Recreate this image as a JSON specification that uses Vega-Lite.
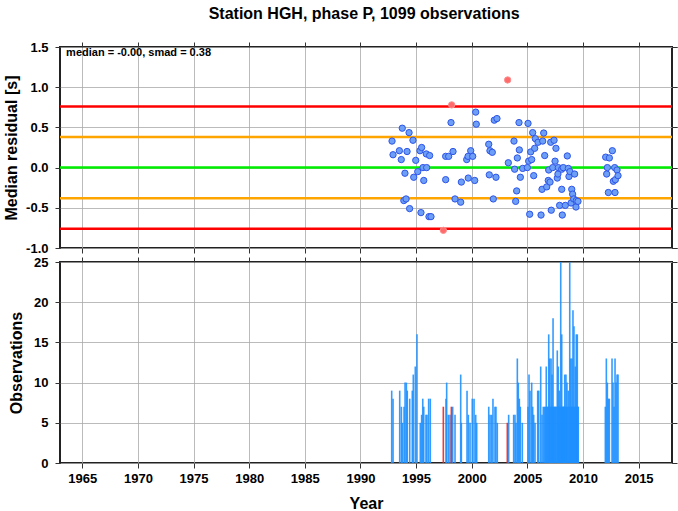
{
  "$schema": "https://vega.github.io/schema/vega-lite/v6.json",
  "autosize": {"type": "pad"},
  "padding": {"left": 2, "top": 6, "right": 1, "bottom": 0},
  "background": "white",
  "title": {"text": "Station HGH, phase P, 1099 observations", "font": "Liberation Sans", "fontSize": 16, "fontWeight": "bold", "color": "black", "anchor": "middle", "offset": 18},
  "config": {
    "view": {"stroke": "#222", "strokeWidth": 2},
    "axis": {"labelFont": "Liberation Sans", "labelFontSize": 13, "labelFontWeight": "bold", "labelColor": "black", "titleFont": "Liberation Sans", "titleFontSize": 16, "titleFontWeight": "bold", "titleColor": "black", "domain": false, "tickColor": "#333", "tickSize": 5, "tickWidth": 1, "gridColor": "#aaa", "gridWidth": 0.8}
  },
  "resolve": {"scale": {"color": "independent", "fill": "independent", "stroke": "independent", "strokeWidth": "independent"}},
  "datasets": {
    "points": [
      {"year": 1992.84, "value": 0.33, "flag": "ok"}, {"year": 1992.93, "value": 0.16, "flag": "ok"}, {"year": 1993.5, "value": 0.21, "flag": "ok"}, {"year": 1993.67, "value": 0.10, "flag": "ok"}, {"year": 1993.76, "value": 0.49, "flag": "ok"}, {"year": 1993.9, "value": -0.41, "flag": "ok"}, {"year": 1994.0, "value": -0.07, "flag": "ok"}, {"year": 1994.1, "value": -0.39, "flag": "ok"}, {"year": 1994.19, "value": 0.20, "flag": "ok"}, {"year": 1994.37, "value": 0.435, "flag": "ok"}, {"year": 1994.42, "value": -0.51, "flag": "ok"}, {"year": 1994.72, "value": 0.34, "flag": "ok"}, {"year": 1994.79, "value": -0.12, "flag": "ok"}, {"year": 1994.97, "value": 0.09, "flag": "ok"}, {"year": 1995.15, "value": -0.05, "flag": "ok"}, {"year": 1995.35, "value": 0.21, "flag": "ok"}, {"year": 1995.44, "value": -0.56, "flag": "ok"}, {"year": 1995.5, "value": 0.25, "flag": "ok"}, {"year": 1995.62, "value": 0.0, "flag": "ok"}, {"year": 1995.69, "value": -0.16, "flag": "ok"}, {"year": 1995.92, "value": 0.17, "flag": "ok"}, {"year": 1995.95, "value": 0.0, "flag": "ok"}, {"year": 1996.16, "value": -0.61, "flag": "ok"}, {"year": 1996.22, "value": 0.15, "flag": "ok"}, {"year": 1996.34, "value": -0.61, "flag": "ok"},
      {"year": 1997.66, "value": 0.14, "flag": "ok"}, {"year": 1997.66, "value": -0.15, "flag": "ok"}, {"year": 1997.93, "value": 0.14, "flag": "ok"}, {"year": 1998.14, "value": 0.56, "flag": "ok"}, {"year": 1998.32, "value": 0.20, "flag": "ok"}, {"year": 1998.5, "value": -0.39, "flag": "ok"}, {"year": 1999.01, "value": -0.43, "flag": "ok"}, {"year": 1999.07, "value": -0.18, "flag": "ok"}, {"year": 1999.55, "value": 0.10, "flag": "ok"}, {"year": 1999.67, "value": 0.14, "flag": "ok"}, {"year": 1999.69, "value": -0.13, "flag": "ok"}, {"year": 1999.91, "value": 0.21, "flag": "ok"}, {"year": 2000.09, "value": 0.14, "flag": "ok"}, {"year": 2000.27, "value": -0.16, "flag": "ok"}, {"year": 2000.36, "value": 0.69, "flag": "ok"}, {"year": 2000.41, "value": 0.54, "flag": "ok"},
      {"year": 2001.53, "value": 0.29, "flag": "ok"}, {"year": 2001.58, "value": -0.09, "flag": "ok"}, {"year": 2001.64, "value": 0.21, "flag": "ok"}, {"year": 2001.85, "value": 0.19, "flag": "ok"}, {"year": 2001.94, "value": -0.39, "flag": "ok"}, {"year": 2002.03, "value": 0.59, "flag": "ok"}, {"year": 2002.18, "value": -0.12, "flag": "ok"}, {"year": 2002.27, "value": 0.61, "flag": "ok"},
      {"year": 2003.29, "value": 0.06, "flag": "ok"}, {"year": 2003.8, "value": 0.33, "flag": "ok"}, {"year": 2003.86, "value": -0.02, "flag": "ok"}, {"year": 2003.95, "value": -0.42, "flag": "ok"}, {"year": 2004.04, "value": -0.29, "flag": "ok"}, {"year": 2004.1, "value": 0.12, "flag": "ok"}, {"year": 2004.25, "value": 0.56, "flag": "ok"}, {"year": 2004.28, "value": 0.22, "flag": "ok"}, {"year": 2004.37, "value": -0.12, "flag": "ok"}, {"year": 2004.58, "value": -0.01, "flag": "ok"},
      {"year": 2005.0, "value": 0.0, "flag": "ok"}, {"year": 2005.06, "value": 0.55, "flag": "ok"}, {"year": 2005.12, "value": 0.08, "flag": "ok"}, {"year": 2005.21, "value": -0.58, "flag": "ok"}, {"year": 2005.3, "value": 0.195, "flag": "ok"}, {"year": 2005.39, "value": 0.10, "flag": "ok"}, {"year": 2005.48, "value": 0.435, "flag": "ok"}, {"year": 2005.57, "value": -0.10, "flag": "ok"}, {"year": 2005.66, "value": 0.24, "flag": "ok"}, {"year": 2005.72, "value": 0.36, "flag": "ok"}, {"year": 2005.96, "value": 0.315, "flag": "ok"},
      {"year": 2006.23, "value": -0.59, "flag": "ok"}, {"year": 2006.32, "value": -0.27, "flag": "ok"}, {"year": 2006.38, "value": 0.33, "flag": "ok"}, {"year": 2006.47, "value": 0.43, "flag": "ok"}, {"year": 2006.56, "value": 0.15, "flag": "ok"}, {"year": 2006.74, "value": -0.24, "flag": "ok"}, {"year": 2006.88, "value": -0.16, "flag": "ok"}, {"year": 2006.92, "value": -0.03, "flag": "ok"},
      {"year": 2007.04, "value": -0.18, "flag": "ok"}, {"year": 2007.1, "value": 0.315, "flag": "ok"}, {"year": 2007.15, "value": -0.53, "flag": "ok"}, {"year": 2007.28, "value": 0.0, "flag": "ok"}, {"year": 2007.4, "value": 0.34, "flag": "ok"}, {"year": 2007.49, "value": 0.08, "flag": "ok"}, {"year": 2007.57, "value": 0.24, "flag": "ok"}, {"year": 2007.69, "value": -0.13, "flag": "ok"}, {"year": 2007.75, "value": -0.08, "flag": "ok"}, {"year": 2007.78, "value": 0.0, "flag": "ok"}, {"year": 2007.9, "value": -0.47, "flag": "ok"},
      {"year": 2008.09, "value": -0.02, "flag": "ok"}, {"year": 2008.09, "value": -0.27, "flag": "ok"}, {"year": 2008.14, "value": -0.59, "flag": "ok"}, {"year": 2008.23, "value": 0.0, "flag": "ok"}, {"year": 2008.41, "value": -0.47, "flag": "ok"}, {"year": 2008.59, "value": 0.145, "flag": "ok"}, {"year": 2008.68, "value": -0.01, "flag": "ok"}, {"year": 2008.74, "value": -0.11, "flag": "ok"}, {"year": 2008.83, "value": -0.05, "flag": "ok"}, {"year": 2008.93, "value": -0.44, "flag": "ok"}, {"year": 2008.99, "value": -0.27, "flag": "ok"},
      {"year": 2009.07, "value": -0.33, "flag": "ok"}, {"year": 2009.17, "value": -0.39, "flag": "ok"}, {"year": 2009.25, "value": -0.08, "flag": "ok"}, {"year": 2009.37, "value": -0.49, "flag": "ok"}, {"year": 2009.4, "value": -0.41, "flag": "ok"}, {"year": 2009.55, "value": -0.42, "flag": "ok"},
      {"year": 2012.04, "value": 0.13, "flag": "ok"}, {"year": 2012.13, "value": -0.08, "flag": "ok"}, {"year": 2012.19, "value": 0.0, "flag": "ok"}, {"year": 2012.28, "value": -0.31, "flag": "ok"}, {"year": 2012.37, "value": 0.12, "flag": "ok"}, {"year": 2012.64, "value": 0.21, "flag": "ok"}, {"year": 2012.73, "value": -0.17, "flag": "ok"}, {"year": 2012.85, "value": 0.0, "flag": "ok"}, {"year": 2012.88, "value": -0.31, "flag": "ok"}, {"year": 2012.91, "value": -0.15, "flag": "ok"}, {"year": 2013.06, "value": -0.03, "flag": "ok"}, {"year": 2013.15, "value": -0.10, "flag": "ok"},
      {"year": 1997.45, "value": -0.78, "flag": "outlier"}, {"year": 1998.2, "value": 0.78, "flag": "outlier"}, {"year": 2003.23, "value": 1.09, "flag": "outlier"}
    ],
    "bars": [
      {"year": 1992.81, "count": 9, "flag": "ok"}, {"year": 1992.93, "count": 8, "flag": "ok"}, {"year": 1993.53, "count": 9, "flag": "ok"}, {"year": 1993.68, "count": 7, "flag": "ok"}, {"year": 1993.77, "count": 5, "flag": "ok"}, {"year": 1993.92, "count": 7, "flag": "ok"}, {"year": 1994.01, "count": 10, "flag": "ok"}, {"year": 1994.13, "count": 10, "flag": "ok"}, {"year": 1994.21, "count": 9, "flag": "ok"}, {"year": 1994.43, "count": 8, "flag": "ok"}, {"year": 1994.66, "count": 9, "flag": "ok"}, {"year": 1994.75, "count": 11, "flag": "ok"}, {"year": 1994.93, "count": 12, "flag": "ok"}, {"year": 1995.08, "count": 16, "flag": "ok"}, {"year": 1995.38, "count": 5, "flag": "ok"}, {"year": 1995.5, "count": 6, "flag": "ok"}, {"year": 1995.6, "count": 8, "flag": "ok"}, {"year": 1995.69, "count": 7, "flag": "ok"}, {"year": 1995.89, "count": 6, "flag": "ok"}, {"year": 1995.98, "count": 6, "flag": "ok"}, {"year": 1996.13, "count": 8, "flag": "ok"}, {"year": 1996.28, "count": 8, "flag": "ok"},
      {"year": 1997.69, "count": 8, "flag": "ok"}, {"year": 1997.75, "count": 10, "flag": "ok"}, {"year": 1997.9, "count": 6, "flag": "ok"}, {"year": 1998.05, "count": 6, "flag": "ok"}, {"year": 1998.29, "count": 7, "flag": "ok"}, {"year": 1998.5, "count": 6, "flag": "ok"}, {"year": 1999.01, "count": 11, "flag": "ok"}, {"year": 1999.07, "count": 5, "flag": "ok"}, {"year": 1999.58, "count": 9, "flag": "ok"}, {"year": 1999.7, "count": 6, "flag": "ok"}, {"year": 1999.85, "count": 5, "flag": "ok"}, {"year": 2000.05, "count": 8, "flag": "ok"}, {"year": 2000.21, "count": 8, "flag": "ok"}, {"year": 2000.36, "count": 6, "flag": "ok"}, {"year": 2000.45, "count": 5, "flag": "ok"},
      {"year": 2001.53, "count": 7, "flag": "ok"}, {"year": 2001.65, "count": 6, "flag": "ok"}, {"year": 2001.8, "count": 6, "flag": "ok"}, {"year": 2001.91, "count": 8, "flag": "ok"}, {"year": 2002.09, "count": 7, "flag": "ok"}, {"year": 2002.18, "count": 7, "flag": "ok"}, {"year": 2002.3, "count": 5, "flag": "ok"},
      {"year": 2003.32, "count": 6, "flag": "ok"}, {"year": 2003.77, "count": 6, "flag": "ok"}, {"year": 2003.89, "count": 6, "flag": "ok"}, {"year": 2003.98, "count": 5, "flag": "ok"}, {"year": 2004.1, "count": 13, "flag": "ok"}, {"year": 2004.19, "count": 10, "flag": "ok"}, {"year": 2004.28, "count": 8, "flag": "ok"}, {"year": 2004.37, "count": 7, "flag": "ok"}, {"year": 2004.55, "count": 5, "flag": "ok"},
      {"year": 2005.06, "count": 7, "flag": "ok"}, {"year": 2005.15, "count": 11, "flag": "ok"}, {"year": 2005.24, "count": 9, "flag": "ok"}, {"year": 2005.39, "count": 10, "flag": "ok"}, {"year": 2005.48, "count": 7, "flag": "ok"}, {"year": 2005.57, "count": 6, "flag": "ok"}, {"year": 2005.69, "count": 5, "flag": "ok"}, {"year": 2005.93, "count": 9, "flag": "ok"},
      {"year": 2006.02, "count": 9, "flag": "ok"}, {"year": 2006.2, "count": 12, "flag": "ok"}, {"year": 2006.32, "count": 6, "flag": "ok"}, {"year": 2006.43, "count": 7, "flag": "ok"}, {"year": 2006.56, "count": 7, "flag": "ok"}, {"year": 2006.62, "count": 7, "flag": "ok"}, {"year": 2006.7, "count": 12, "flag": "ok"}, {"year": 2006.77, "count": 7, "flag": "ok"}, {"year": 2006.83, "count": 7, "flag": "ok"}, {"year": 2006.92, "count": 16, "flag": "ok"}, {"year": 2006.97, "count": 7, "flag": "ok"},
      {"year": 2007.01, "count": 13, "flag": "ok"}, {"year": 2007.07, "count": 7, "flag": "ok"}, {"year": 2007.13, "count": 13, "flag": "ok"}, {"year": 2007.18, "count": 7, "flag": "ok"}, {"year": 2007.22, "count": 11, "flag": "ok"}, {"year": 2007.26, "count": 7, "flag": "ok"}, {"year": 2007.31, "count": 18, "flag": "ok"}, {"year": 2007.37, "count": 7, "flag": "ok"}, {"year": 2007.43, "count": 7, "flag": "ok"}, {"year": 2007.49, "count": 7, "flag": "ok"}, {"year": 2007.55, "count": 7, "flag": "ok"}, {"year": 2007.62, "count": 7, "flag": "ok"}, {"year": 2007.69, "count": 14, "flag": "ok"}, {"year": 2007.73, "count": 7, "flag": "ok"}, {"year": 2007.78, "count": 12, "flag": "ok"}, {"year": 2007.83, "count": 7, "flag": "ok"}, {"year": 2007.87, "count": 9, "flag": "ok"}, {"year": 2007.93, "count": 7, "flag": "ok"},
      {"year": 2008.0, "count": 25, "flag": "ok"}, {"year": 2008.04, "count": 7, "flag": "ok"}, {"year": 2008.09, "count": 16, "flag": "ok"}, {"year": 2008.13, "count": 7, "flag": "ok"}, {"year": 2008.18, "count": 7, "flag": "ok"}, {"year": 2008.23, "count": 7, "flag": "ok"}, {"year": 2008.27, "count": 7, "flag": "ok"}, {"year": 2008.32, "count": 7, "flag": "ok"}, {"year": 2008.36, "count": 11, "flag": "ok"}, {"year": 2008.41, "count": 7, "flag": "ok"}, {"year": 2008.47, "count": 11, "flag": "ok"}, {"year": 2008.52, "count": 7, "flag": "ok"}, {"year": 2008.56, "count": 10, "flag": "ok"}, {"year": 2008.62, "count": 7, "flag": "ok"}, {"year": 2008.68, "count": 9, "flag": "ok"}, {"year": 2008.74, "count": 7, "flag": "ok"}, {"year": 2008.81, "count": 25, "flag": "ok"}, {"year": 2008.85, "count": 7, "flag": "ok"}, {"year": 2008.9, "count": 13, "flag": "ok"}, {"year": 2008.95, "count": 7, "flag": "ok"},
      {"year": 2009.01, "count": 13, "flag": "ok"}, {"year": 2009.05, "count": 7, "flag": "ok"}, {"year": 2009.1, "count": 19, "flag": "ok"}, {"year": 2009.15, "count": 7, "flag": "ok"}, {"year": 2009.19, "count": 17, "flag": "ok"}, {"year": 2009.25, "count": 7, "flag": "ok"}, {"year": 2009.31, "count": 12, "flag": "ok"}, {"year": 2009.35, "count": 7, "flag": "ok"}, {"year": 2009.4, "count": 16, "flag": "ok"}, {"year": 2009.45, "count": 7, "flag": "ok"}, {"year": 2009.49, "count": 16, "flag": "ok"}, {"year": 2009.53, "count": 7, "flag": "ok"}, {"year": 2009.58, "count": 7, "flag": "ok"},
      {"year": 2012.01, "count": 7, "flag": "ok"}, {"year": 2012.1, "count": 13, "flag": "ok"}, {"year": 2012.19, "count": 10, "flag": "ok"}, {"year": 2012.28, "count": 8, "flag": "ok"}, {"year": 2012.37, "count": 8, "flag": "ok"}, {"year": 2012.61, "count": 13, "flag": "ok"}, {"year": 2012.7, "count": 10, "flag": "ok"}, {"year": 2012.79, "count": 7, "flag": "ok"}, {"year": 2012.88, "count": 13, "flag": "ok"}, {"year": 2012.97, "count": 10, "flag": "ok"}, {"year": 2013.06, "count": 11, "flag": "ok"}, {"year": 2013.15, "count": 11, "flag": "ok"},
      {"year": 1997.45, "count": 7, "flag": "outlier"}, {"year": 1998.17, "count": 7, "flag": "outlier"}, {"year": 2003.2, "count": 5, "flag": "outlier"}
    ],
    "levels": [
      {"level": 0.76, "kind": "2 smad"}, {"level": -0.76, "kind": "2 smad"},
      {"level": 0.38, "kind": "1 smad"}, {"level": -0.38, "kind": "1 smad"},
      {"level": 0, "kind": "median"}
    ],
    "note": [{"year": 1963.55, "value": 1.42, "label": "median = -0.00, smad = 0.38"}]
  },
  "spacing": -1,
  "vconcat": [
    {
      "width": 612,
      "height": 201,
      "layer": [
        {
          "data": {"name": "levels"},
          "mark": {"type": "rule"},
          "encoding": {
            "y": {"field": "level", "type": "quantitative", "scale": {"domain": [-1, 1.5], "nice": false, "zero": false},
              "axis": {"values": [-1, -0.5, 0, 0.5, 1, 1.5], "labelExpr": "replace(format(datum.value, '.1f'), '\u2212', '-')", "title": "Median residual [s]", "titlePadding": 6, "grid": true, "labelPadding": 7}},
            "color": {"field": "kind", "type": "nominal", "scale": {"domain": ["2 smad", "1 smad", "median"], "range": ["#ff0000", "#ffa500", "#00ee00"]}, "legend": null},
            "strokeWidth": {"field": "kind", "type": "nominal", "scale": {"domain": ["2 smad", "1 smad", "median"], "range": [2.5, 2.5, 3.5]}, "legend": null}
          }
        },
        {
          "data": {"name": "points"},
          "mark": {"type": "point", "shape": "circle", "filled": false, "size": 40, "strokeWidth": 1, "opacity": 1},
          "encoding": {
            "x": {"field": "year", "type": "quantitative", "scale": {"domain": [1963, 2018], "nice": false, "zero": false},
              "axis": {"values": [1965, 1970, 1975, 1980, 1985, 1990, 1995, 2000, 2005, 2010, 2015], "labels": false, "title": null, "grid": true}},
            "y": {"field": "value", "type": "quantitative"},
            "fill": {"field": "flag", "type": "nominal", "scale": {"domain": ["ok", "outlier"], "range": ["#6c9ff5", "#ff6b6b"]}, "legend": null},
            "stroke": {"field": "flag", "type": "nominal", "scale": {"domain": ["ok", "outlier"], "range": ["#2f55e8", "#ff8c8c"]}, "legend": null}
          }
        },
        {
          "data": {"name": "note"},
          "mark": {"type": "text", "align": "left", "baseline": "middle", "font": "Liberation Sans", "fontSize": 11, "fontWeight": "bold", "color": "black"},
          "encoding": {
            "x": {"field": "year", "type": "quantitative", "axis": {"orient": "top", "values": [1965, 1970, 1975, 1980, 1985, 1990, 1995, 2000, 2005, 2010, 2015], "labels": false, "labelExpr": "''", "title": null, "grid": false}},
            "y": {"field": "value", "type": "quantitative", "axis": {"orient": "right", "values": [-1, -0.5, 0, 0.5, 1, 1.5], "labels": false, "labelExpr": "''", "title": null, "grid": false}},
            "text": {"field": "label", "type": "nominal"}
          }
        }
      ],
      "resolve": {"axis": {"x": "independent", "y": "independent"}}
    },
    {
      "width": 612,
      "height": 201,
      "layer": [
        {
          "data": {"name": "bars"},
          "mark": {"type": "rule", "strokeWidth": 1.6, "opacity": 0.9},
          "encoding": {
            "x": {"field": "year", "type": "quantitative", "scale": {"domain": [1963, 2018], "nice": false, "zero": false},
              "axis": {"values": [1965, 1970, 1975, 1980, 1985, 1990, 1995, 2000, 2005, 2010, 2015], "format": "d", "title": "Year", "grid": true, "labelPadding": 4, "titlePadding": 10}},
            "y": {"field": "count", "type": "quantitative", "scale": {"domain": [0, 25], "nice": false},
              "axis": {"values": [0, 5, 10, 15, 20, 25], "title": "Observations", "grid": true, "titlePadding": 9, "labelPadding": 7}},
            "y2": {"datum": 0},
            "color": {"field": "flag", "type": "nominal", "scale": {"domain": ["ok", "outlier"], "range": ["#1e90ff", "#ee2222"]}, "legend": null}
          }
        },
        {
          "data": {"name": "note"},
          "mark": {"type": "text", "opacity": 0, "text": ""},
          "encoding": {
            "x": {"field": "year", "type": "quantitative", "axis": {"orient": "top", "values": [1965, 1970, 1975, 1980, 1985, 1990, 1995, 2000, 2005, 2010, 2015], "labels": false, "labelExpr": "''", "title": null, "grid": false}},
            "y": {"datum": 0, "type": "quantitative", "axis": {"orient": "right", "values": [0, 5, 10, 15, 20, 25], "labels": false, "labelExpr": "''", "title": null, "grid": false}}
          }
        }
      ],
      "resolve": {"axis": {"x": "independent", "y": "independent"}}
    }
  ]
}
